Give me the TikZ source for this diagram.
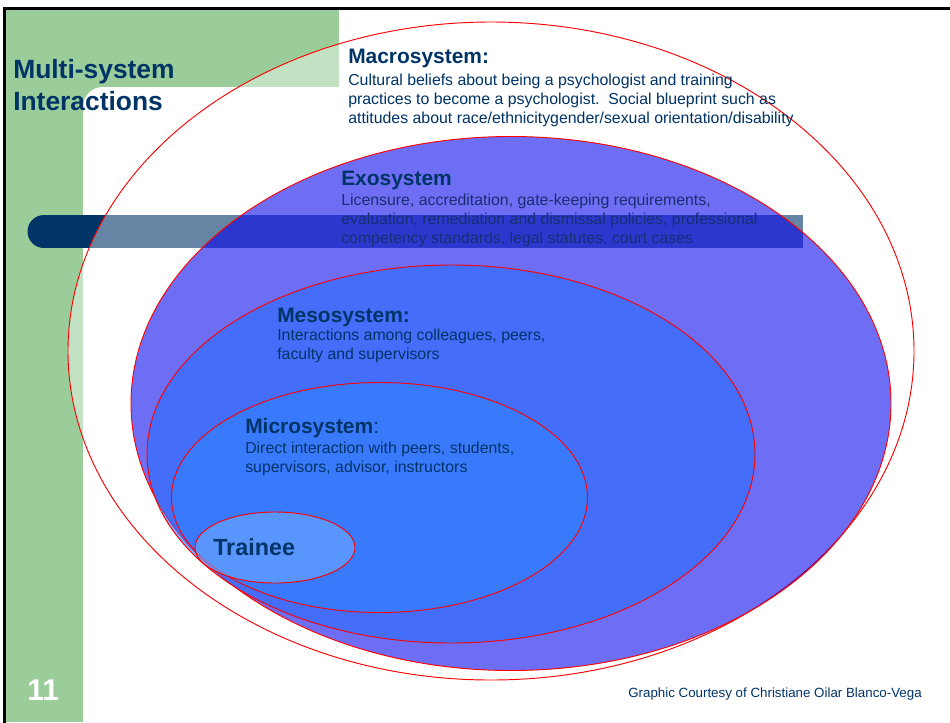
\documentclass[tikz,border=0pt]{standalone}
\usepackage{fontspec}
\setmainfont{Liberation Sans}
\definecolor{slidegreen}{RGB}{155,205,155}
\definecolor{slidenavy}{RGB}{0,51,102}
\definecolor{exoblue}{RGB}{0,0,237}
\definecolor{mesoblue}{RGB}{40,110,255}
\definecolor{microblue}{RGB}{50,130,255}
\definecolor{traineeblue}{RGB}{110,170,255}
\definecolor{exotext}{RGB}{25,45,115}
\tikzset{
  ring/.style={draw=red, line width=0.7pt},
  heading/.style={anchor=base west, inner sep=0pt, text=slidenavy,
    font=\bfseries\fontsize{15.7}{18}\selectfont},
  bodytext/.style={anchor=base west, inner sep=0pt, align=left, text=slidenavy,
    font=\fontsize{11.9}{14.25}\selectfont},
}

\begin{document}
\begin{tikzpicture}[x=0.75pt, y=-0.75pt]
                \useasboundingbox (0,0) rectangle (950,722);
                \fill [white] (0,0) rectangle (950,722);
                % slide frame and green band
                \fill [slidegreen] (5,10) rectangle (339,87);
                \fill [slidegreen] (5,10) rectangle (83,722);
                \fill [slidegreen] (83,87) rectangle (103,107);
                \fill [white] (103,107) circle [radius=20];
                \draw [line width=2.25pt] (4,760) -- (4,8.5) -- (990,8.5);
                % bar
                \fill [slidenavy] (44,215) rectangle (803,248);
                \fill [slidenavy] (44,231.5) circle [radius=16.5];
                % systems
                \filldraw [ring, fill=white, fill opacity=0.4] (491,351) ellipse [x radius=423, y radius=329];
                \filldraw [ring, fill=exoblue, fill opacity=0.57] (511,403.5) ellipse [x radius=380, y radius=267];
                \filldraw [ring, fill=mesoblue, fill opacity=0.6] (451,454) ellipse [x radius=304, y radius=189];
                \filldraw [ring, fill=microblue, fill opacity=0.6] (379.5,497.5) ellipse [x radius=208, y radius=115];
                \filldraw [ring, fill=traineeblue, fill opacity=0.6] (275,547.5) ellipse [x radius=80, y radius=35.5];
                % texts (multi-line nodes sit on their last line)
                \node (title) [anchor=base west, inner sep=0pt, align=left, text=slidenavy,
                  font=\bfseries\fontsize{19.8}{24}\selectfont] at (13,110) {Multi-system\\Interactions};
                \node (pagenum) [anchor=base west, inner sep=0pt, text=white,
                  font=\bfseries\fontsize{22.5}{26}\selectfont] at (27,700) {11};
                \node (macro) [heading] at (348,63) {Macrosystem:};
                \node (macrobody) [bodytext] at (348,123) {Cultural beliefs about being a psychologist and training\\practices to become a psychologist.\ \ Social blueprint such as\\attitudes about race/ethnicitygender/sexual orientation/disability};
                \node (exo) [heading] at (341,185) {Exosystem};
                \node (exobody) [bodytext, text=exotext] at (341,243) {Licensure, accreditation, gate-keeping requirements,\\evaluation, remediation and dismissal policies, professional\\competency standards, legal statutes, court cases};
                \node (meso) [heading] at (277,322) {Mesosystem:};
                \node (mesobody) [bodytext] at (277,359) {Interactions among colleagues, peers,\\faculty and supervisors};
                \node (micro) [heading] at (245,433) {Microsystem\textmd{:}};
                \node (microbody) [bodytext] at (245,472) {Direct interaction with peers, students,\\supervisors, advisor, instructors};
                \node (trainee) [heading, font=\bfseries\fontsize{17.5}{21}\selectfont] at (213,555) {Trainee};
                \node (credit) [anchor=base west, inner sep=0pt, text=slidenavy,
                  font=\fontsize{10}{12}\selectfont] at (628,697) {Graphic Courtesy of Christiane Oilar Blanco-Vega};
            \end{tikzpicture}
\end{document}
